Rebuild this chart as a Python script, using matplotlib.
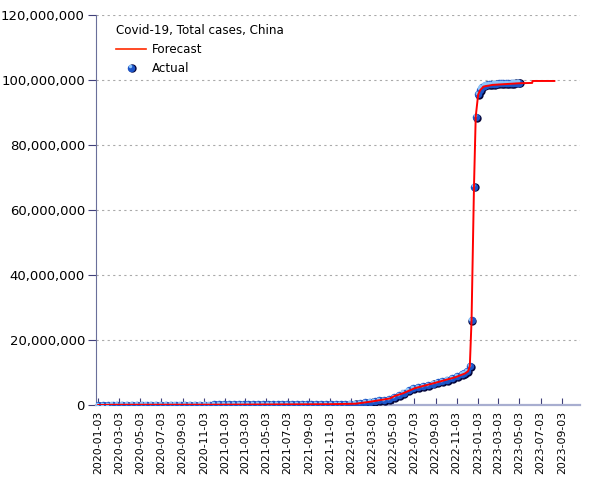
import matplotlib
matplotlib.use("Agg")
import matplotlib.pyplot as plt
import matplotlib.dates as mdates
import matplotlib.transforms as mtransforms
from matplotlib.lines import Line2D
from matplotlib.legend_handler import HandlerBase
from matplotlib.ticker import FuncFormatter, MultipleLocator
import pandas as pd
import numpy as np

# ---------------- data (millions of cases) ----------------
# Actual, biweekly from 2020-01-03
actual_biweekly_start = "2020-01-03"
actual_biweekly_values = [
    0.0, 0.0, 0.01, 0.07, 0.08, 0.08, 0.08, 0.08, 0.08, 0.08,
    0.08, 0.08, 0.08, 0.09, 0.09, 0.09, 0.09, 0.09, 0.09, 0.09,
    0.09, 0.09, 0.09, 0.09, 0.3, 0.3, 0.3, 0.3, 0.3, 0.3,
    0.3, 0.3, 0.3, 0.3, 0.3, 0.3, 0.3, 0.3, 0.3, 0.3,
    0.3, 0.3, 0.3, 0.3, 0.3, 0.3, 0.3, 0.3, 0.3, 0.3,
    0.32, 0.35, 0.38, 0.45, 0.6, 0.8, 1.0, 1.2, 1.4, 1.6,
    1.9, 2.4, 3.1, 3.8, 4.5, 5.1, 5.5, 5.8, 6.1, 6.6,
    7.1, 7.4, 7.8, 8.2, 8.8, 9.5,
]
# Actual, individual reports from late 2022
actual_late_dates = [
    "2022-11-25", "2022-12-04", "2022-12-11", "2022-12-16", "2022-12-23",
    "2022-12-28", "2023-01-04", "2023-01-09", "2023-01-14", "2023-01-21",
    "2023-01-28", "2023-02-04", "2023-02-11", "2023-02-18", "2023-02-25",
    "2023-03-04", "2023-03-11", "2023-03-18", "2023-03-25", "2023-04-01",
    "2023-04-08", "2023-04-15", "2023-04-22", "2023-04-29", "2023-05-03",
]
actual_late_values = [
    9.9, 10.5, 12.0, 26.2, 67.2,
    88.7, 95.7, 97.0, 97.8, 98.3,
    98.6, 98.7, 98.8, 98.85, 98.9,
    98.95, 99.0, 99.0, 99.05, 99.1,
    99.1, 99.15, 99.2, 99.2, 99.2,
]

forecast_dates = [
    "2020-01-03", "2020-02-15", "2020-12-01", "2021-11-01", "2022-01-15",
    "2022-02-26", "2022-04-24", "2022-05-09", "2022-06-01", "2022-07-06",
    "2022-09-01", "2022-10-29", "2022-11-27", "2022-12-06", "2022-12-11",
    "2022-12-16", "2022-12-23", "2022-12-28", "2023-01-04", "2023-01-10",
    "2023-01-20", "2023-02-15", "2023-05-03", "2023-06-09", "2023-06-10",
    "2023-08-12",
]
forecast_values = [
    0.0, 0.07, 0.1, 0.25, 0.4,
    1.0, 2.0, 2.8, 3.6, 5.2,
    6.8, 8.5, 9.7, 10.4, 12.0,
    26.2, 67.2, 88.7, 95.5, 96.9,
    98.0, 98.5, 99.0, 99.1, 99.7,
    99.7,
]

title_text = "Covid-19, Total cases, China"
x_tick_first = "2020-01-03"
x_tick_last = "2023-09-03"

# ---------------- build ----------------
a_dates = list(pd.date_range(actual_biweekly_start, periods=len(actual_biweekly_values), freq="14D"))
a_dates += list(pd.to_datetime(actual_late_dates))
a_vals = np.array(actual_biweekly_values + actual_late_values) * 1e6
f_dates = pd.to_datetime(forecast_dates)
f_vals = np.array(forecast_values) * 1e6

fig = plt.figure(figsize=(6.05, 4.8), dpi=100)
ax = fig.add_axes([96 / 605, 1 - 405 / 480, (580 - 96) / 605, (405 - 15) / 480])

ms = 6.0
dark = mtransforms.offset_copy(ax.transData, fig=fig, x=0.8, y=-0.9, units="dots")
hi = mtransforms.offset_copy(ax.transData, fig=fig, x=-1.2, y=1.3, units="dots")
ax.plot(a_dates, a_vals, ls="none", marker="o", ms=ms, mfc="#06063a", mec="none", transform=dark, zorder=3)
ax.plot(a_dates, a_vals, ls="none", marker="o", ms=ms * 0.9, mfc="#1d55c8", mec="none", zorder=4)
ax.plot(a_dates, a_vals, ls="none", marker="o", ms=ms * 0.45, mfc="#8cc4fa", mec="none", transform=hi, zorder=5)

ax.plot(f_dates, f_vals, color="#ff0000", lw=1.4, zorder=6)

ax.set_ylim(0, 120e6)
ax.yaxis.set_major_locator(MultipleLocator(20e6))
ax.yaxis.set_major_formatter(FuncFormatter(lambda v, p: f"{int(v):,}"))
ax.set_xlim(pd.Timestamp("2019-12-28"), pd.Timestamp("2023-10-25"))
t0 = pd.Timestamp(x_tick_first)
t1 = pd.Timestamp(x_tick_last)
ticks = [t0 + pd.DateOffset(months=2 * k) for k in range(0, 40)]
ticks = [t for t in ticks if t <= t1]
ax.set_xticks(ticks)
ax.xaxis.set_major_formatter(mdates.DateFormatter("%Y-%m-%d"))
for lab in ax.get_xticklabels():
    lab.set_rotation(90)

ax.grid(axis="y", color="#aaaaaa", ls=(0, (2, 3)), lw=0.8)
ax.set_axisbelow(True)
for s in ["top", "right"]:
    ax.spines[s].set_visible(False)
ax.spines["left"].set_color("#6a6f9a")
ax.spines["bottom"].set_color("#a8aed0")
ax.spines["bottom"].set_linewidth(1.6)
ax.tick_params(axis="x", direction="in", length=5, color="#40407a", labelsize=7.8, pad=4)
ax.tick_params(axis="y", direction="out", length=6, color="#40407a", labelsize=9.5, pad=2)


class SphereHandler(HandlerBase):
    def create_artists(self, legend, orig_handle, xdescent, ydescent,
                       width, height, fontsize, trans):
        cx = width / 2 - xdescent
        cy = height / 2 - ydescent
        arts = []
        for dx, dy, m, c in [(0.6, -0.6, 6.0, "#06063a"), (0, 0, 5.4, "#1d55c8"),
                             (-0.9, 0.9, 2.5, "#8cc4fa")]:
            ln = Line2D([cx + dx], [cy + dy], ls="none", marker="o", ms=m, mfc=c, mec="none")
            ln.set_transform(trans)
            arts.append(ln)
        return arts


class SphereKey:
    pass


h_fore = Line2D([], [], color="#ff2a00", lw=1.2)
h_act = SphereKey()
leg = ax.legend([h_fore, h_act], ["Forecast", "Actual"], title=title_text,
                loc="upper left", bbox_to_anchor=(0.02, 1.005), frameon=False,
                fontsize=8.6, title_fontsize=8.6, alignment="left",
                handler_map={SphereKey: SphereHandler()},
                handlelength=2.5, handletextpad=0.45, labelspacing=0.5)

fig.savefig("out.png", dpi=100)
